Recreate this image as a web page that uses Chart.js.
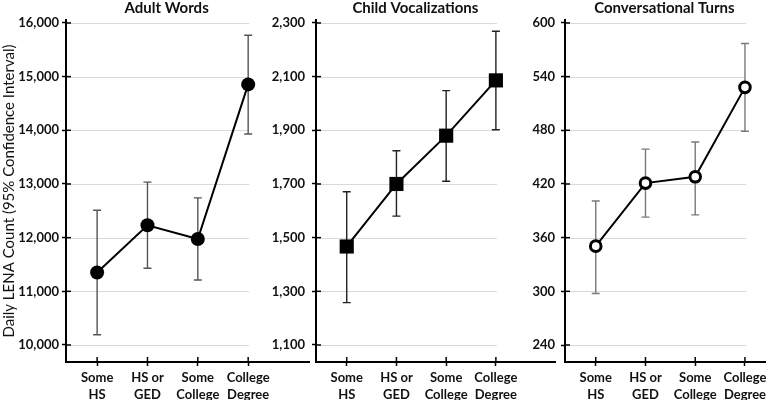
<!DOCTYPE html>
<html><head><meta charset="utf-8">
<script src="https://cdn.jsdelivr.net/npm/chart.js@4.4.1/dist/chart.umd.min.js"></script>
<style>
html,body{margin:0;padding:0;background:#fff;}
#wrap{position:relative;width:774px;height:400px;overflow:hidden;background:#fff;}
canvas{position:absolute;top:0;}
</style></head><body>
<div id="wrap">
<canvas id="c1" style="left:0px" width="316" height="400"></canvas>
<canvas id="c2" style="left:250px" width="315" height="400"></canvas>
<canvas id="c3" style="left:499px" width="275" height="400"></canvas>
</div>
<script>
// ---- data ----
const categories = [['Some','HS'],['HS or','GED'],['Some','College'],['College','Degree']];
const panelTitles = ['Adult Words','Child Vocalizations','Conversational Turns'];
const yAxisTitle = 'Daily LENA Count (95% Confidence Interval)';

const adultWordsMean = [11350, 12230, 11975, 14855];
const adultWordsLow  = [10190, 11430, 11210, 13930];
const adultWordsHigh = [12510, 13035, 12740, 15770];
const adultWordsTicks = [10000, 11000, 12000, 13000, 14000, 15000, 16000];

const childVocMean = [1467, 1700, 1880, 2086];
const childVocLow  = [1258, 1580, 1710, 1902];
const childVocHigh = [1671, 1824, 2048, 2269];
const childVocTicks = [1100, 1300, 1500, 1700, 1900, 2100, 2300];

const convTurnsMean = [350.5, 421, 428, 528];
const convTurnsLow  = [297.5, 383, 385.5, 479];
const convTurnsHigh = [401, 459, 467, 577];
const convTurnsTicks = [240, 300, 360, 420, 480, 540, 600];

// ---- rendering ----
const FONT = 'Lato, "Open Sans", sans-serif';
const catValues = categories.map((c, i) => i + 1);

const decorPlugin = {
  id: 'decor',
  beforeDatasetsDraw(chart) {
    const o = chart.options.plugins.decor;
    const ctx = chart.ctx, xs = chart.scales.x, ys = chart.scales.y;
    const axisX = ys.right, axisY = xs.top;
    const lastX = xs.getPixelForValue(catValues[catValues.length - 1]);
    ctx.save();
    ctx.strokeStyle = '#d9d9d9'; ctx.lineWidth = 1;
    ys.ticks.forEach(t => {
      const py = Math.round(ys.getPixelForValue(t.value)) + 0.5;
      ctx.beginPath(); ctx.moveTo(axisX + 1, py); ctx.lineTo(lastX + 1, py); ctx.stroke();
    });
    ctx.strokeStyle = '#000'; ctx.lineWidth = 1.5;
    ys.ticks.forEach(t => {
      const py = ys.getPixelForValue(t.value);
      ctx.beginPath(); ctx.moveTo(axisX, py); ctx.lineTo(axisX + 5, py); ctx.stroke();
    });
    xs.ticks.forEach(t => {
      const px = xs.getPixelForValue(t.value);
      ctx.beginPath(); ctx.moveTo(px, axisY); ctx.lineTo(px, axisY - 5); ctx.stroke();
    });
    ctx.strokeStyle = o.errColor; ctx.lineWidth = 1.4;
    o.low.forEach((lo, i) => {
      const px = xs.getPixelForValue(catValues[i]);
      const pl = ys.getPixelForValue(lo), ph = ys.getPixelForValue(o.high[i]);
      ctx.beginPath();
      ctx.moveTo(px, pl); ctx.lineTo(px, ph);
      ctx.moveTo(px - 4, pl); ctx.lineTo(px + 4, pl);
      ctx.moveTo(px - 4, ph); ctx.lineTo(px + 4, ph);
      ctx.stroke();
    });
    ctx.restore();
  },
  afterDraw(chart) {
    const o = chart.options.plugins.decor;
    const ctx = chart.ctx, xs = chart.scales.x, ys = chart.scales.y;
    const cx = (ys.right + xs.getPixelForValue(catValues[catValues.length - 1] + 0.38)) / 2;
    ctx.save();
    ctx.fillStyle = '#111';
    ctx.font = 'bold 15px ' + FONT;
    ctx.textAlign = 'center'; ctx.textBaseline = 'middle';
    ctx.fillText(o.title, cx, 8);
    ctx.restore();
  }
};

function makePanel(id, title, mean, low, high, ticks, opt) {
  const ctx = document.getElementById(id);
  return new Chart(ctx, {
    type: 'line',
    data: {
      datasets: [{
        data: mean.map((v, i) => ({ x: catValues[i], y: v })),
        borderColor: '#000', borderWidth: 2, tension: 0,
        pointStyle: opt.pointStyle, pointRadius: opt.pointRadius,
        pointBackgroundColor: opt.pointFill, pointBorderColor: '#000',
        pointBorderWidth: opt.pointBorderWidth, clip: false
      }]
    },
    options: {
      responsive: false, animation: false,
      layout: { padding: { top: 20, left: 0, right: 0, bottom: 0 } },
      plugins: {
        legend: { display: false }, tooltip: { enabled: false },
        decor: { title: title, low: low, high: high, errColor: opt.errColor }
      },
      scales: {
        x: {
          type: 'linear', min: 0.382, max: opt.xMax,
          afterBuildTicks: s => { s.ticks = catValues.map(v => ({ value: v })); },
          afterFit: s => { s.height = 38; },
          grid: { drawOnChartArea: false, drawTicks: true, tickLength: 4, tickColor: '#000', tickWidth: 1.5 },
          border: { display: true, color: '#000', width: 2 },
          ticks: {
            autoSkip: false, maxRotation: 0, padding: 4, color: '#111',
            font: { family: FONT, size: 13, weight: 'bold', lineHeight: 1.25 },
            callback: v => categories[v - 1] || ''
          }
        },
        y: {
          min: opt.yMin, max: opt.yMax,
          afterBuildTicks: s => { s.ticks = ticks.map(v => ({ value: v })); },
          afterFit: s => { s.width = 66; },
          grid: { drawOnChartArea: false, drawTicks: true, tickLength: 4, tickColor: '#000', tickWidth: 1.5 },
          border: { display: true, color: '#000', width: 2 },
          ticks: {
            padding: opt.tickPad, color: '#111',
            font: { family: FONT, size: 13, weight: 'bold' },
            callback: v => v.toLocaleString('en-US')
          },
          title: {
            display: !!opt.yTitle, text: opt.yTitle || '', color: '#111',
            font: { family: FONT, size: 15 }, padding: { top: 0, bottom: 0 }
          }
        }
      }
    },
    plugins: [decorPlugin]
  });
}

makePanel('c1', panelTitles[0], adultWordsMean, adultWordsLow, adultWordsHigh, adultWordsTicks,
  { yMin: 9683, yMax: 16055, xMax: 5.208, pointStyle: 'circle', pointRadius: 7, pointFill: '#000',
    pointBorderWidth: 0, errColor: '#555', tickPad: 3, yTitle: yAxisTitle });
makePanel('c2', panelTitles[1], childVocMean, childVocLow, childVocHigh, childVocTicks,
  { yMin: 1036.6, yMax: 2311, xMax: 5.189, pointStyle: 'rect', pointRadius: 10, pointFill: '#000',
    pointBorderWidth: 0, errColor: '#222', tickPad: 7 });
makePanel('c3', panelTitles[2], convTurnsMean, convTurnsLow, convTurnsHigh, convTurnsTicks,
  { yMin: 221, yMax: 603.3, xMax: 4.417, pointStyle: 'circle', pointRadius: 5.3, pointFill: '#fff',
    pointBorderWidth: 3, errColor: '#7a7a7a', tickPad: 6 });
</script>
</body></html>
